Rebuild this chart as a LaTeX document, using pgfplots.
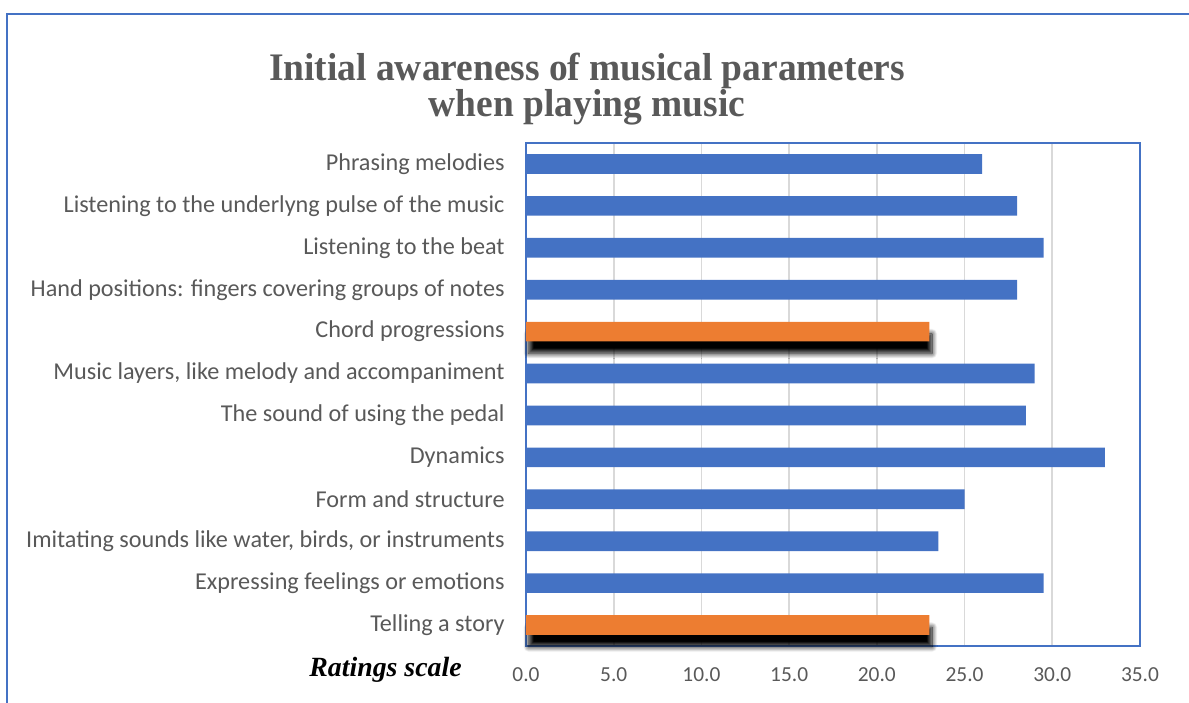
\documentclass[border=0pt]{standalone}
\usepackage{pgfplots}
\pgfplotsset{compat=1.18}
\usepackage{fontspec}
\setmainfont{Carlito}
\newfontfamily\titlefont[FakeStretch=0.96]{Liberation Serif}
\newfontfamily\ratingfont{Liberation Serif}
\usetikzlibrary{shadows.blur}
\definecolor{xlblue}{HTML}{4472C4}
\definecolor{xlorange}{HTML}{ED7D31}
\definecolor{xlgray}{HTML}{595959}
\definecolor{xlgrid}{HTML}{D9D9D9}
\begin{document}
\begin{tikzpicture}
\useasboundingbox (-263pt,-28pt) rectangle (331.5pt,323pt);
\begin{axis}[
  at={(0,0)}, anchor=south west,
  scale only axis,
  width=307pt, height=251.5pt,
  xmin=0, xmax=35,
  ymin=-0.5, ymax=11.5,
  xtick={0,5,...,35},
  ytick={0,...,11},
  yticklabels={Telling a story,
    Expressing feelings or emotions,
    {Imitating sounds like water, birds, or instruments},
    Form and structure,
    Dynamics,
    The sound of using the pedal,
    {Music layers, like melody and accompaniment},
    Chord progressions,
    {Hand positions: fingers covering groups of notes},
    Listening to the beat,
    Listening to the underlyng pulse of the music,
    Phrasing melodies},
  xticklabel={\pgfmathprintnumber[fixed,fixed zerofill,precision=1]{\tick}},
  /pgf/number format/assume math mode=true,
  major tick length=0pt,
  xmajorgrids, grid style={xlgrid, line width=0.9pt},
  axis line style={xlblue, line width=0.9pt},
  tick label style={text=xlgray},
  y tick label style={font=\fontsize{12.1}{14}\selectfont, inner sep=0pt, xshift=-10.5pt},
  x tick label style={font=\fontsize{10.7}{12}\selectfont, inner sep=0pt, yshift=-10.5pt},
  clip=false,
]
\addplot[xbar, bar shift=0pt, bar width=9.8pt, fill=xlblue, draw=none] coordinates {
  (29.5,1) (23.5,2) (25,3) (33,4) (28.5,5) (29,6) (28,8) (29.5,9) (28,10) (26,11)
};
\addplot[xbar, bar shift=0pt, bar width=9.8pt, fill=xlorange, draw=none,
  blur shadow={shadow xshift=1.3pt, shadow yshift=-6pt, shadow blur radius=2.6pt, shadow blur steps=12, shadow opacity=100}] coordinates {
  (23,0) (23,7)
};
\end{axis}
\node[font=\titlefont\bfseries\fontsize{19.5}{18}\selectfont, text=xlgray, align=center] at (30.5pt,278.5pt) {Initial awareness of musical parameters\\when playing music};
\node[font=\ratingfont\bfseries\itshape\fontsize{13.9}{15}\selectfont, anchor=east, inner sep=0pt] at (-32pt,-12pt) {Ratings scale};
\draw[xlblue, line width=1pt] (-259.5pt,-30pt) -- (-259.5pt,316pt) -- (340pt,316pt);
\end{tikzpicture}
\end{document}
